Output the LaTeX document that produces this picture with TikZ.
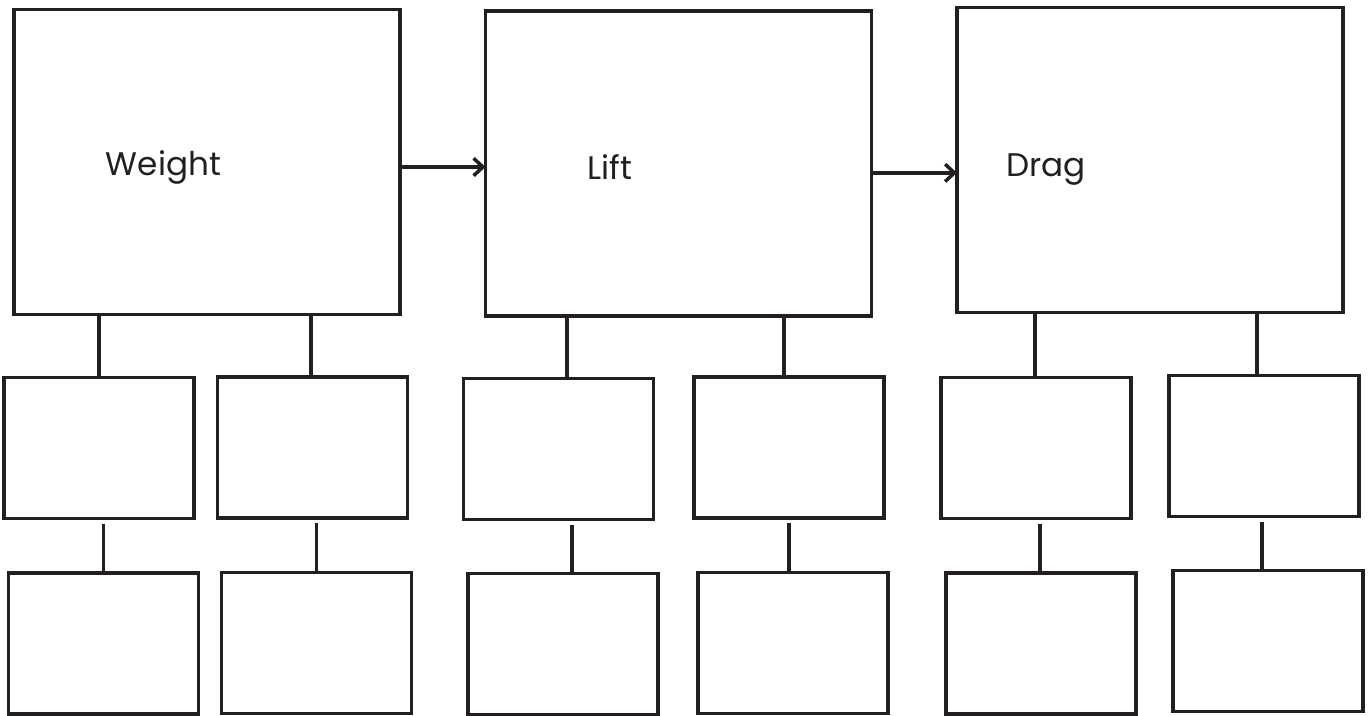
\documentclass[tikz,border=0pt]{standalone}
\usepackage{fontspec}
\setmainfont{Poppins}
\usetikzlibrary{arrows.meta,calc,positioning}
\definecolor{inkclr}{HTML}{231F20}

\begin{document}
\begin{tikzpicture}[x=0.75pt,y=-0.75pt,
  every node/.style={draw=inkclr,line width=2.8pt,inner sep=0pt,outer sep=0pt},
  bigbox/.style={minimum width=289.5pt,minimum height=228.75pt},
  smallbox/.style={minimum width=142.5pt,minimum height=105.75pt},
  boxlabel/.style={draw=none,font=\fontsize{24.5}{29}\selectfont,text=inkclr},
  link/.style={draw=inkclr,line width=2.8pt},
  arr/.style={link,-{Straight Barb[length=7pt,width=13pt,line width=2.6pt]}}]
\useasboundingbox (0,0) rectangle (1371,715);
% top row
\node [bigbox] (Weight) at (207,162) {};
\node [bigbox] (Lift) at (678.5,163.5) {};
\node [bigbox] (Drag) at (1150,160) {};
\node [boxlabel] (WeightText) at (163.5,167) {Weight};
\node [boxlabel] (LiftText) at (610,167) {Lift};
\node [boxlabel] (DragText) at (1046,170) {Drag};
% second row
\node [smallbox] (WeightA) at (99,448) {};
\node [smallbox] (WeightB) at (312.5,447.5) {};
\node [smallbox] (LiftA) at (558.5,449) {};
\node [smallbox] (LiftB) at (789,447.5) {};
\node [smallbox] (DragA) at (1036,448) {};
\node [smallbox] (DragB) at (1264,446) {};
% third row
\node [smallbox] (WeightAA) at (103.5,643.5) {};
\node [smallbox] (WeightBB) at (316.5,643) {};
\node [smallbox] (LiftAA) at (563,644) {};
\node [smallbox] (LiftBB) at (793,643) {};
\node [smallbox] (DragAA) at (1041,643.5) {};
\node [smallbox] (DragBB) at (1268,641) {};
% arrows
\draw [arr] ([yshift=-3.75pt]Weight.east) -- ([yshift=-3.75pt]Weight.east -| Lift.west);
\draw [arr] ([yshift=-7pt]Lift.east) -- ([yshift=-7pt]Lift.east -| Drag.west);
% links row one to row two
\foreach \child/\parent/\dx in {WeightA/Weight/0,WeightB/Weight/-1.2,LiftA/Lift/6.3,LiftB/Lift/-3.7,DragA/Drag/-0.7,DragB/Drag/-5.2}
  \draw [link] ([xshift=\dx pt]\child.north) -- ([xshift=\dx pt]\child.north |- \parent.south);
% links row two to row three
\foreach \child/\parent/\dx in {WeightAA/WeightA/0,WeightBB/WeightB/0,LiftAA/LiftA/6.8,LiftBB/LiftB/-3,DragAA/DragA/-0.7,DragBB/DragB/-4.5}
  \draw [link] ([xshift=\dx pt]\child.north) -- ([xshift=\dx pt,yshift=-3.75pt]\child.north |- \parent.south);
\end{tikzpicture}
\end{document}
